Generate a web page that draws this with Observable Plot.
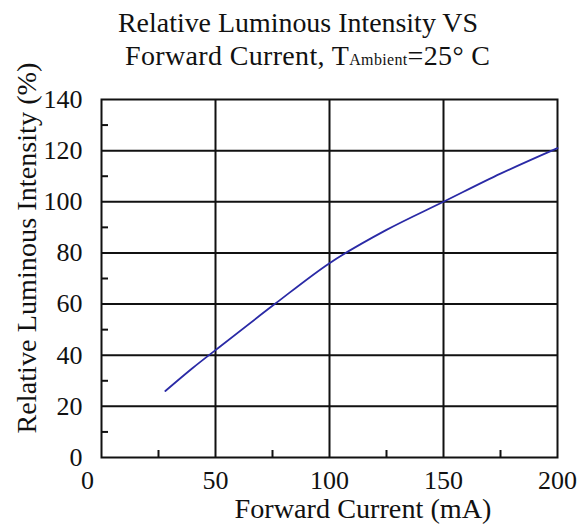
<!DOCTYPE html>
<html>
<head>
<meta charset="utf-8">
<script src="https://cdn.jsdelivr.net/npm/d3@7"></script>
<script src="https://cdn.jsdelivr.net/npm/@observablehq/plot@0.6"></script>
<style>
  html, body { margin: 0; padding: 0; background: #fff; }
  #chart svg { display: block; }
</style>
</head>
<body>
<div id="chart"></div>
<script>
// Data
const current = [28, 40, 50, 76, 100, 125, 150, 175, 200];        // Forward Current (mA)
const intensity = [26, 35, 42, 60, 76, 89, 100, 111, 121];        // Relative Luminous Intensity (%)

const xTicks = [50, 100, 150, 200];
const xZeroTick = [0];
const yTicks = [0, 20, 40, 60, 80, 100, 120, 140];
const xGrid = [50, 100, 150];
const yGrid = [20, 40, 60, 80, 100, 120];
const xMinor = [25, 75, 125, 175];
const yMinor = [10, 30, 50, 70, 90, 110, 130];

const titleLine1 = "Relative Luminous Intensity VS";
const titleLine2a = "Forward Current, T";
const titleLine2sub = "Ambient";
const titleLine2b = "=25\u00B0 C";
const xLabel = "Forward Current (mA)";
const yLabel = "Relative Luminous Intensity (%)";

const data = current.map((c, i) => ({current: c, intensity: intensity[i]}));

const ink = "#111";
const lineColor = "#2a2aa6";

const chart = Plot.plot({
  width: 587,
  height: 526,
  marginLeft: 101,
  marginRight: 30,
  marginTop: 99,
  marginBottom: 69,
  style: {fontFamily: "'Liberation Serif', 'Times New Roman', serif", background: "#fff", color: ink, overflow: "visible"},
  x: {domain: [0, 200]},
  y: {domain: [0, 140]},
  marks: [
    Plot.ruleX(xGrid, {x: d => d, stroke: ink, strokeWidth: 2}),
    Plot.ruleY(yGrid, {y: d => d, stroke: ink, strokeWidth: 2}),
    Plot.ruleX(xMinor, {x: d => d, y1: 0, y2: 0, insetBottom: 7, stroke: ink, strokeWidth: 2}),
    Plot.ruleY(yMinor, {y: d => d, x1: 0, x2: 0, insetRight: -7, stroke: ink, strokeWidth: 2}),
    Plot.frame({stroke: ink, strokeWidth: 2}),
    Plot.line(data, {x: "current", y: "intensity", curve: "monotone-x", stroke: lineColor, strokeWidth: 1.8}),
    Plot.axisY(yTicks, {tickSize: 0, tickPadding: 19, fontSize: 26, label: null, fill: ink}),
    Plot.axisX(xTicks, {tickSize: 0, tickPadding: 13, fontSize: 26, label: null, fill: ink}),
    Plot.axisX(xZeroTick, {tickSize: 0, tickPadding: 13, fontSize: 26, label: null, dx: -14, fill: ink})
  ]
});

document.getElementById("chart").appendChild(chart);

const svg = d3.select(chart);
const font = "'Liberation Serif', 'Times New Roman', serif";

svg.append("text")
  .attr("x", 118).attr("y", 32)
  .attr("text-anchor", "start")
  .attr("font-family", font).attr("font-size", 28).attr("fill", ink)
  .attr("textLength", 360).attr("lengthAdjust", "spacingAndGlyphs")
  .text(titleLine1);

const t2 = svg.append("text")
  .attr("x", 125).attr("y", 65)
  .attr("text-anchor", "start")
  .attr("font-family", font).attr("font-size", 28).attr("fill", ink)
  .attr("textLength", 365).attr("lengthAdjust", "spacing");
t2.append("tspan").text(titleLine2a);
t2.append("tspan").attr("font-size", 16).text(titleLine2sub);
t2.append("tspan").text(titleLine2b);

svg.append("text")
  .attr("x", 363).attr("y", 518)
  .attr("text-anchor", "middle")
  .attr("font-family", font).attr("font-size", 28).attr("fill", ink)
  .attr("textLength", 257).attr("lengthAdjust", "spacingAndGlyphs")
  .text(xLabel);

svg.append("text")
  .attr("transform", "translate(36,248) rotate(-90)")
  .attr("text-anchor", "middle")
  .attr("font-family", font).attr("font-size", 28).attr("fill", ink)
  .attr("textLength", 371).attr("lengthAdjust", "spacingAndGlyphs")
  .text(yLabel);
</script>
</body>
</html>
